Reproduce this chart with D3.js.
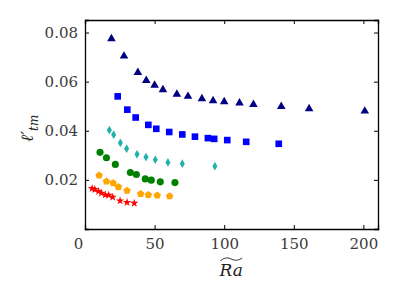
<!DOCTYPE html>
<html>
<head>
<meta charset="utf-8">
<script src="https://cdn.jsdelivr.net/npm/d3@7"></script>
<style>
  body { margin: 0; background: #fff; }
</style>
</head>
<body>
<div id="chart"></div>
<script>
// series values
var xTri = [19, 28, 38, 44, 50, 56, 66, 74, 84, 92, 100, 111, 121, 141, 161, 201];
var yTri = [0.0775, 0.0704, 0.0637, 0.0605, 0.0585, 0.0567, 0.0549, 0.0540, 0.0530, 0.0522, 0.0518, 0.0513, 0.0507, 0.0499, 0.0490, 0.0480];
var xSq = [23.5, 30.4, 36.4, 45.5, 51.2, 60.5, 69.9, 79, 88.3, 92.8, 102.2, 115.8, 139.2];
var ySq = [0.0540, 0.0486, 0.0454, 0.0424, 0.0408, 0.0395, 0.0385, 0.0376, 0.0370, 0.0367, 0.0362, 0.0355, 0.0347];
var xDia = [17.5, 20.6, 25.4, 29.9, 37.4, 43.8, 50.5, 59.6, 69.9, 93.3];
var yDia = [0.0403, 0.0384, 0.0351, 0.0327, 0.0304, 0.0293, 0.0282, 0.0271, 0.0266, 0.0256];
var xCir = [10.8, 15.4, 21.8, 32.6, 36.9, 43.3, 47.6, 54.1, 64.6];
var yCir = [0.0312, 0.0290, 0.0263, 0.0230, 0.0222, 0.0204, 0.0199, 0.0192, 0.0189];
var xPen = [10.1, 15.4, 20.2, 24, 30.2, 40, 45.5, 51.9, 60.8];
var yPen = [0.0218, 0.0194, 0.0187, 0.0171, 0.0156, 0.0143, 0.0139, 0.0137, 0.0134];
var xStar = [5.1, 7, 9.8, 11.8, 14.6, 17, 19.9, 25.2, 30.2, 35.4];
var yStar = [0.0165, 0.0161, 0.0153, 0.0146, 0.0139, 0.0138, 0.0130, 0.0115, 0.0108, 0.0105];

var xTicks = [0, 50, 100, 150, 200];
var yTicks = [0.02, 0.04, 0.06, 0.08];

var width = 399, height = 299;
var margin = {left: 85, right: 21, top: 20, bottom: 70};
var serif = 'DejaVu Serif';

var svg = d3.select('#chart')
  .append('svg')
  .attr('width', width)
  .attr('height', height);

var x = d3.scaleLinear().domain([0, 210.5]).range([margin.left, width - margin.right]);
var y = d3.scaleLinear().domain([0, 0.0851]).range([height - margin.bottom, margin.top]);

// pentagon, like matplotlib 'p'
var symbolPentagon = {
  draw: function(context, size) {
    var r = Math.sqrt(size / 2.3776);
    for (var i = 0; i < 5; i++) {
      var a = -Math.PI / 2 + i * 2 * Math.PI / 5;
      if (i === 0) context.moveTo(r * Math.cos(a), r * Math.sin(a));
      else context.lineTo(r * Math.cos(a), r * Math.sin(a));
    }
    context.closePath();
  }
};

var series = [
  {xs: xTri, ys: yTri, color: '#000080', type: d3.symbolTriangle, size: 32},
  {xs: xSq, ys: ySq, color: '#0000ff', type: d3.symbolSquare, size: 44},
  {xs: xDia, ys: yDia, color: '#20b2aa', type: d3.symbolDiamond, size: 22},
  {xs: xCir, ys: yCir, color: '#008000', type: d3.symbolCircle, size: 40},
  {xs: xPen, ys: yPen, color: '#ffa500', type: symbolPentagon, size: 36},
  {xs: xStar, ys: yStar, color: '#ff0000', type: d3.symbolStar, size: 22}
];

series.forEach(function(s) {
  var pts = s.xs.map(function(v, i) { return [v, s.ys[i]]; });
  svg.append('g').selectAll('path')
    .data(pts)
    .enter().append('path')
    .attr('transform', d => 'translate(' + x(d[0]) + ',' + y(d[1]) + ')')
    .attr('d', d3.symbol().type(s.type).size(s.size))
    .attr('fill', s.color);
});

// axes, ticks pointing inward on all four sides
var axBottom = svg.append('g')
  .attr('transform', 'translate(0,' + y(0) + ')')
  .call(d3.axisBottom(x).tickValues(xTicks).tickSize(-4).tickPadding(9).tickFormat(d3.format('d')));
var axTop = svg.append('g')
  .attr('transform', 'translate(0,' + y.range()[1] + ')')
  .call(d3.axisTop(x).tickValues(xTicks).tickSize(-4).tickFormat(''));
var axLeft = svg.append('g')
  .attr('transform', 'translate(' + x(0) + ',0)')
  .call(d3.axisLeft(y).tickValues(yTicks).tickSize(-4).tickPadding(7).tickFormat(d3.format('.2f')));
var axRight = svg.append('g')
  .attr('transform', 'translate(' + x.range()[1] + ',0)')
  .call(d3.axisRight(y).tickValues(yTicks).tickSize(-4).tickFormat(''));

[axBottom, axTop, axLeft, axRight].forEach(function(g) {
  g.attr('font-family', serif).attr('font-size', 15);
  g.select('.domain').attr('stroke', '#000').attr('stroke-width', 1.3);
  g.selectAll('.tick line').attr('stroke', '#000');
  g.selectAll('text').attr('fill', '#3a3a3a');
});
// the "0" on the x axis sits a little left of its tick in the original
axBottom.selectAll('.tick text').filter(d => d === 0).attr('dx', '-7');

// y label: l'_tm
var yl = svg.append('text')
  .attr('transform', 'translate(33,' + y(0.041) + ') rotate(-90)')
  .attr('text-anchor', 'middle')
  .attr('fill', '#222')
  .attr('font-family', serif)
  .attr('font-size', 17)
  .attr('font-style', 'italic');
yl.append('tspan').text('ℓ′');
yl.append('tspan').attr('dy', 5).attr('font-size', 12).text('tm');

// x label: widetilde Ra
var xlx = x(105), xly = 276;
svg.append('text')
  .attr('x', xlx).attr('y', xly)
  .attr('text-anchor', 'middle')
  .attr('fill', '#222')
  .attr('font-family', serif)
  .attr('font-size', 17)
  .attr('font-style', 'italic')
  .text('Ra');
svg.append('path')
  .attr('d', 'M' + (xlx - 11) + ',' + (xly - 15) +
    ' Q' + (xlx - 5.5) + ',' + (xly - 20) + ' ' + xlx + ',' + (xly - 17) +
    ' T' + (xlx + 11) + ',' + (xly - 18))
  .attr('fill', 'none')
  .attr('stroke', '#222')
  .attr('stroke-width', 0.9);
</script>
</body>
</html>
